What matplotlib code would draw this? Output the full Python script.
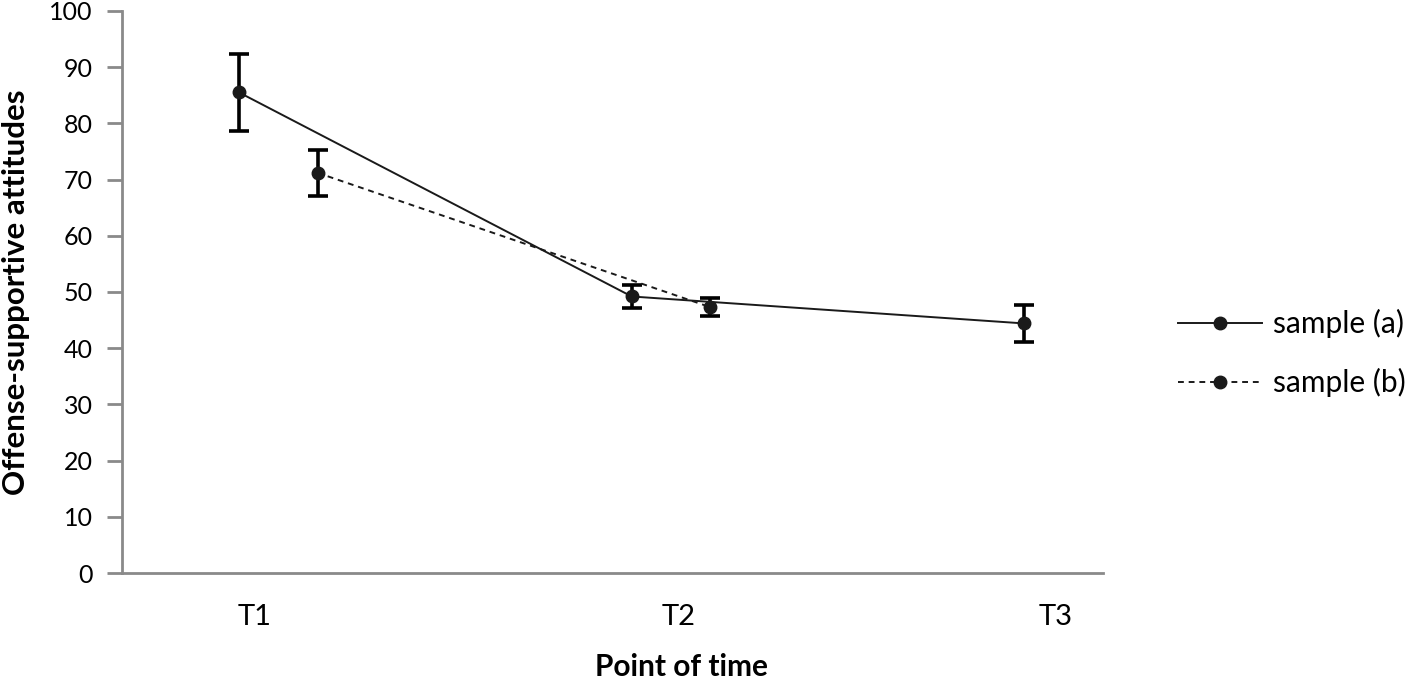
import numpy as np
import matplotlib
matplotlib.use("Agg")
import matplotlib.pyplot as plt

plt.rcParams['font.family'] = ['Lato', 'DejaVu Sans']

# data
time_labels = ['T1', 'T2', 'T3']
label_pos = [1.04, 2.12, 3.08]

x_a = [1.0, 2.0, 3.0]
y_a = [85.5, 49.2, 44.4]
err_a = [6.8, 2.0, 3.3]

x_b = [1.2, 2.2]
y_b = [71.2, 47.3]
err_b = [4.1, 1.6]

axis_grey = '#8a8a8a'

fig = plt.figure(figsize=(14.17, 6.83), dpi=100)
ax = fig.add_axes([0.0861, 0.161, 0.6923, 0.823])

ax.errorbar(x_a, y_a, yerr=err_a, color='#1a1a1a', lw=1.4, ls='-',
            marker='o', ms=9, ecolor='black', elinewidth=2.6,
            capsize=7, capthick=2.6, label='sample (a)')
ax.errorbar(x_b, y_b, yerr=err_b, color='#1a1a1a', lw=1.4, ls=(0, (3, 2.5)),
            marker='o', ms=9, ecolor='black', elinewidth=2.6,
            capsize=7, capthick=2.6, label='sample (b)')

ax.set_xlim(0.702, 3.2)
ax.set_ylim(0, 100)
ax.set_yticks(np.arange(0, 101, 10))
ax.set_xticks(label_pos)
ax.set_xticklabels(time_labels)

for s in ['top', 'right']:
    ax.spines[s].set_visible(False)
for s in ['left', 'bottom']:
    ax.spines[s].set_color(axis_grey)
    ax.spines[s].set_linewidth(2)

ax.tick_params(axis='y', direction='out', length=11, width=2, color=axis_grey,
               labelsize=18, pad=10)
ax.tick_params(axis='x', length=0, labelsize=21, pad=22)

ax.set_ylabel('Offense-supportive attitudes', fontsize=22.5, fontweight='bold')
ax.yaxis.set_label_coords(-0.094, 0.5)
ax.set_xlabel('Point of time', fontsize=21.5, fontweight='bold')
ax.xaxis.set_label_coords(0.57, -0.143)

handles, labels = ax.get_legend_handles_labels()
handles = [h[0] for h in handles]
fig.legend(handles, labels, loc='center left', bbox_to_anchor=(0.8313, 0.483),
           frameon=False, fontsize=21.5, handlelength=2.8, handletextpad=0.38,
           labelspacing=1.0, borderpad=0, borderaxespad=0)

fig.savefig('out.png', dpi=100)
